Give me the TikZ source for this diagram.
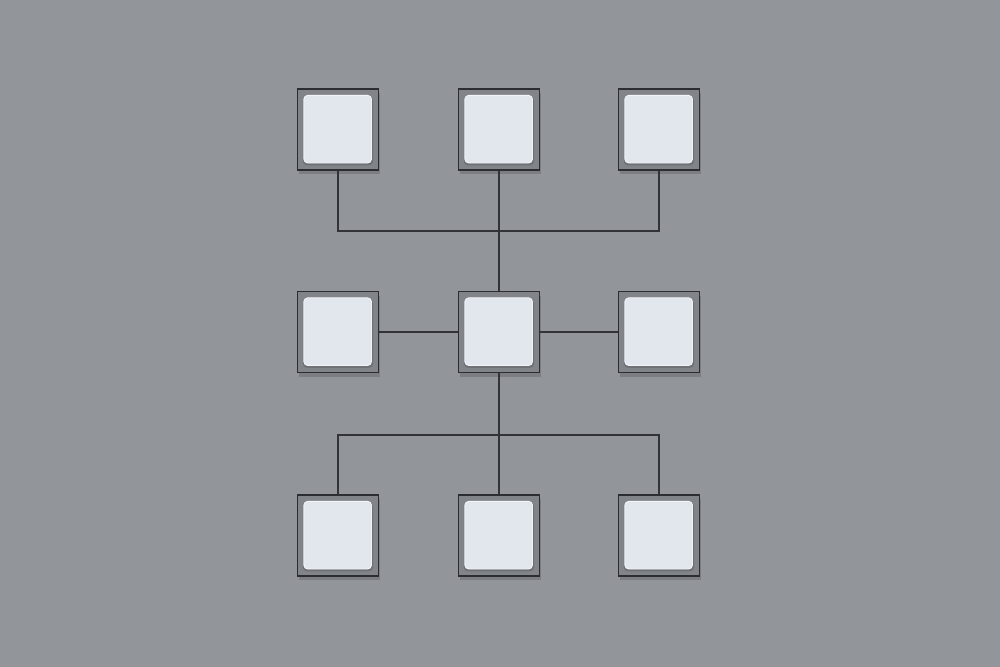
\documentclass[tikz,border=0pt]{standalone}
\usetikzlibrary{shadows}
\definecolor{bg}{RGB}{146,149,154}
\definecolor{frame}{RGB}{129,132,137}
\definecolor{edge}{RGB}{44,45,49}
\definecolor{face}{RGB}{226,231,238}
\definecolor{faceedge}{RGB}{242,244,247}
\definecolor{wire}{RGB}{50,51,55}
\begin{document}
\begin{tikzpicture}[x=0.3mm,y=-0.3mm,
  tile/.style={draw=edge,line width=1.5pt,fill=frame,minimum size=24.3mm,inner sep=0pt,
    drop shadow={shadow xshift=0.4mm,shadow yshift=-1.2mm,opacity=0.15,fill=black},
    path picture={
      \fill[black,opacity=0.14,rounded corners=1.2mm]
        ([xshift=1.6mm,yshift=-2.4mm]path picture bounding box.north west) rectangle
        ([xshift=-1.6mm,yshift=1.4mm]path picture bounding box.south east);
      \draw[faceedge,fill=face,line width=0.8pt,rounded corners=1.2mm]
        ([xshift=1.9mm,yshift=-1.9mm]path picture bounding box.north west) rectangle
        ([xshift=-2.1mm,yshift=2.1mm]path picture bounding box.south east);
    }},
  wire/.style={draw=wire,line width=1.5pt}]
\fill[bg] (0,0) rectangle (1000,667);
\useasboundingbox (0,0) rectangle (1000,667);
\coordinate (j1) at (499,231);
\coordinate (j2) at (499,435);
\node[tile] (t1) at (338,129.5) {};
\node[tile] (t2) at (499,129.5) {};
\node[tile] (t3) at (659,129.5) {};
\node[tile] (m1) at (338,332) {};
\node[tile] (m2) at (499,332) {};
\node[tile] (m3) at (659,332) {};
\node[tile] (b1) at (338,535.5) {};
\node[tile] (b2) at (499,535.5) {};
\node[tile] (b3) at (659,535.5) {};
\draw[wire] (t1.south) |- (j1) -| (t3.south);
\draw[wire] (t2.south) -- (m2.north);
\draw[wire] (m1.east) -- (m2.west);
\draw[wire] (m2.east) -- (m3.west);
\draw[wire] (m2.south) -- (b2.north);
\draw[wire] (b1.north) |- (j2) -| (b3.north);
\end{tikzpicture}
\end{document}
